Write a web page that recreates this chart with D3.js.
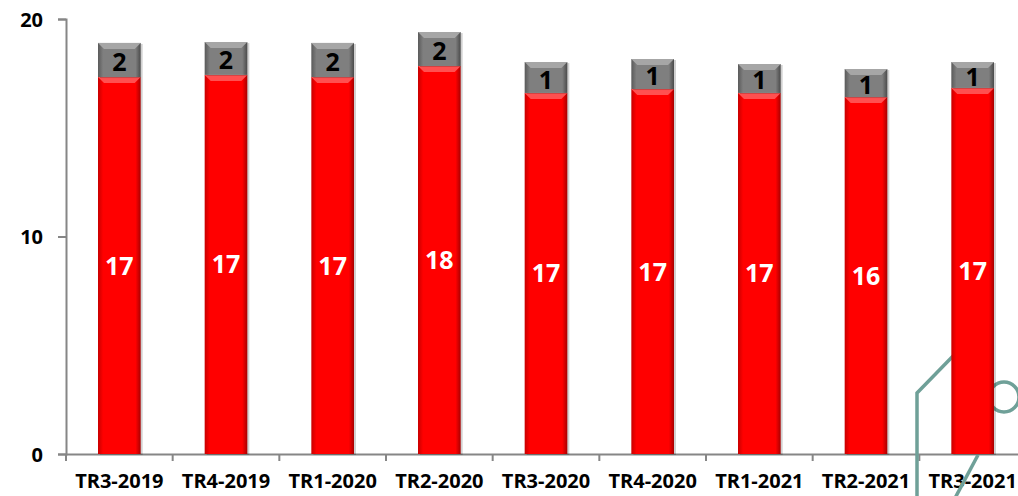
<!DOCTYPE html>
<html><head><meta charset="utf-8">
<script src="https://cdn.jsdelivr.net/npm/d3@7"></script>
<style>html,body{margin:0;padding:0;background:#fff;overflow:hidden}</style>
</head><body>
<svg id="c" width="1018" height="496"></svg>
<script>
const categories = ["TR3-2019","TR4-2019","TR1-2020","TR2-2020","TR3-2020","TR4-2020","TR1-2021","TR2-2021","TR3-2021"];
const redValues  = [17.33,17.43,17.33,17.84,16.6,16.78,16.6,16.41,16.83];
const greyValues = [1.57,1.51,1.57,1.56,1.42,1.38,1.33,1.29,1.19];
const yTicks = [0,10,20];

const svg = d3.select("#c");
const defs = svg.append("defs");
function grad(id, edge, mid, edge2){
  const g = defs.append("linearGradient").attr("id",id).attr("x1","0").attr("x2","1").attr("y1","0").attr("y2","0");
  g.append("stop").attr("offset","0").attr("stop-color",edge);
  g.append("stop").attr("offset","0.12").attr("stop-color",mid);
  g.append("stop").attr("offset","0.88").attr("stop-color",mid);
  g.append("stop").attr("offset","1").attr("stop-color",edge2);
}
grad("gRed","#c80000","#ff0000","#a80000");
grad("gGrey","#5a5a5a","#7f7f7f","#4a4a4a");

const x = d3.scaleBand().domain(categories).range([66,1026]).paddingInner(0.6).paddingOuter(0.3);
const y = d3.scaleLinear().domain([0,20]).range([454,19]);

// axes
const yAxis = svg.append("g").attr("transform","translate(66,0)")
  .call(d3.axisLeft(y).tickValues(yTicks).tickSize(8).tickPadding(15));
const xAxis = svg.append("g").attr("transform","translate(0,454)")
  .call(d3.axisBottom(x).tickSize(0).tickPadding(20));
[yAxis,xAxis].forEach(a=>{
  a.select(".domain").attr("stroke","#868686").attr("stroke-width",2);
  a.selectAll(".tick line").attr("stroke","#868686").attr("stroke-width",2);
  a.selectAll("text").attr("fill","#000").style("font-family","'Open Sans',sans-serif").style("font-weight","bold").style("font-size","20px");
});
yAxis.selectAll("text").attr("dy","0.35em");
// x ticks at category boundaries
const step = x.step();
xAxis.selectAll(".bound").data(d3.range(categories.length+1)).enter().append("line")
  .attr("x1",i=>66+i*step).attr("x2",i=>66+i*step).attr("y1",0).attr("y2",7)
  .attr("stroke","#868686").attr("stroke-width",2);

// decoration lines (behind bars)
const deco = svg.append("g").attr("fill","none").attr("stroke","#6fa098").attr("stroke-width",3.5);
deco.append("polyline").attr("points","955,354 917,393 917,500");
deco.append("line").attr("x1",978).attr("y1",455).attr("x2",954).attr("y2",500);
deco.append("circle").attr("cx",1004).attr("cy",397).attr("r",15);

// bars
const bw = x.bandwidth();
function seg(g, x0, y0, h, fill, top){
  g.append("rect").attr("x",x0+2).attr("y",y0+1).attr("width",bw).attr("height",h).attr("fill","rgba(0,0,0,0.18)");
  g.append("rect").attr("x",x0).attr("y",y0).attr("width",bw).attr("height",h).attr("fill",fill);
  const b = Math.min(6,h/2);
  g.append("polygon").attr("points",`${x0},${y0} ${x0+bw},${y0} ${x0+bw-b},${y0+b} ${x0+b},${y0+b}`).attr("fill",top);
}
const bars = svg.append("g");
categories.forEach((c,i)=>{
  const x0 = x(c);
  const r = redValues[i], g = greyValues[i];
  seg(bars, x0, y(r), y(0)-y(r), "url(#gRed)", "#ff5050");
  seg(bars, x0, y(r+g), y(r)-y(r+g), "url(#gGrey)", "#a6a6a6");
});
const labels = svg.append("g").style("font-family","'Open Sans',sans-serif").style("font-weight","bold").attr("text-anchor","middle");
categories.forEach((c,i)=>{
  const cx = x(c)+bw/2;
  const r = redValues[i], g = greyValues[i];
  labels.append("text").attr("x",cx).attr("y",(y(0)+y(r))/2).attr("dy","0.36em")
    .attr("fill","#fff").style("font-size","25px").text(d3.format(".0f")(r));
  labels.append("text").attr("x",cx).attr("y",(y(r)+y(r+g))/2+2).attr("dy","0.36em")
    .attr("fill","#000").style("font-size","25px").text(d3.format(".0f")(g));
});
</script>
</body></html>
